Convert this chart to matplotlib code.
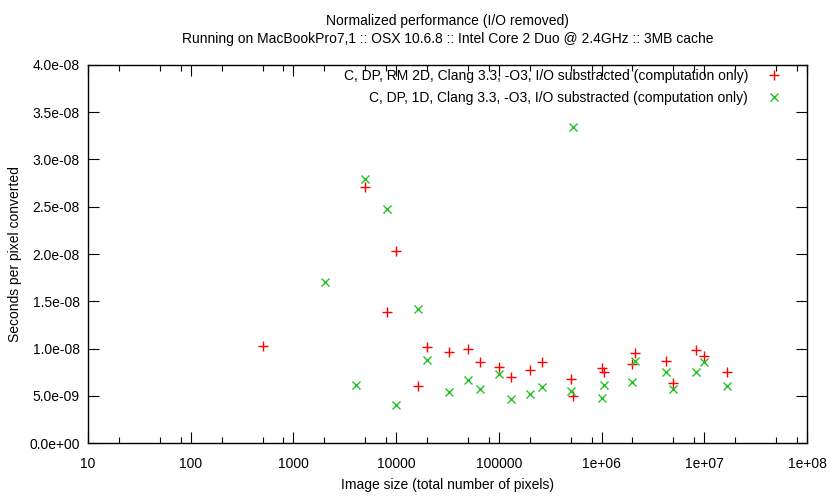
import matplotlib
matplotlib.use('Agg')
import matplotlib.pyplot as plt
from matplotlib.ticker import FuncFormatter, NullFormatter

###############################################################################
# Datos (tiempo por pixel, I/O descontado)
###############################################################################
x_rm2d = [500, 5000, 8192, 10000, 16384, 20000, 32768, 50000, 65536, 100000,
          131072, 200000, 262144, 500000, 524288, 1000000, 1048576, 2000000,
          2097152, 4194304, 5000000, 8388608, 10000000, 16777216]
y_rm2d = [10.22, 27.08, 13.88, 20.27, 6.03, 10.15, 9.68, 9.97, 8.56, 7.99,
          7.00, 7.75, 8.56, 6.82, 4.99, 7.96, 7.55, 8.38,
          9.50, 8.67, 6.30, 9.85, 9.18, 7.51]

x_1d = [2048, 4096, 5000, 8192, 10000, 16384, 20000, 32768, 50000, 65536,
        100000, 131072, 200000, 262144, 500000, 524288, 1000000, 1048576,
        2000000, 2097152, 4194304, 5000000, 8388608, 10000000, 16777216]
y_1d = [17.01, 6.10, 27.90, 24.77, 4.03, 14.20, 8.79, 5.44, 6.68, 5.76,
        7.35, 4.64, 5.17, 5.91, 5.52, 33.39, 4.75, 6.13,
        6.50, 8.70, 7.53, 5.75, 7.53, 8.54, 6.02]
y_rm2d = [v * 1e-9 for v in y_rm2d]
y_1d = [v * 1e-9 for v in y_1d]

lab_rm2d = 'C, DP, RM 2D, Clang 3.3, -O3, I/O substracted (computation only)'
lab_1d = 'C, DP, 1D, Clang 3.3, -O3, I/O substracted (computation only)'
title = ('Normalized performance (I/O removed)\n'
         'Running on MacBookPro7,1 :: OSX 10.6.8 :: Intel Core 2 Duo @ 2.4GHz :: 3MB cache')

xmajor = [10, 100, 1000, 10000, 100000, 1e6, 1e7, 1e8]
yticks = [0, 5e-9, 1e-8, 1.5e-8, 2e-8, 2.5e-8, 3e-8, 3.5e-8, 4e-8]

###############################################################################
# Grafica
###############################################################################
plt.rcParams['font.family'] = ['Liberation Sans', 'DejaVu Sans']
plt.rcParams['font.size'] = 10

fig = plt.figure(figsize=(8.3, 4.98), dpi=100)
ax = fig.add_axes([88/830, 55/498, 719/830, 378/498])

ax.plot(x_rm2d, y_rm2d, linestyle='none', marker='+', ms=6.5, mew=1,
        color='#ff0000', label=lab_rm2d)
ax.plot(x_1d, y_1d, linestyle='none', marker='x', ms=5.5, mew=1,
        color='#22c322', label=lab_1d)

ax.set_xscale('log')
ax.set_xlim(10, 1e8)
ax.set_ylim(0, 4e-8)
ax.set_xticks(xmajor)
minors = [m * d for d in xmajor[:-1] for m in (2, 5, 8)]
ax.set_xticks(minors, minor=True)
ax.xaxis.set_minor_formatter(NullFormatter())
ax.xaxis.set_major_formatter(FuncFormatter(lambda v, p: '%g' % v))
ax.set_yticks(yticks)
ax.yaxis.set_major_formatter(FuncFormatter(lambda v, p: '%.1e' % v))

ax.tick_params('both', which='major', direction='in', top=True, right=True,
               length=8, width=0.8, pad=6)
ax.tick_params('both', which='minor', direction='in', top=True, right=True,
               length=4, width=0.8)
ax.tick_params('x', which='major', pad=10)
for s in ax.spines.values():
    s.set_linewidth(1)

ax.set_xlabel('Image size (total number of pixels)', labelpad=5)
ax.set_ylabel('Seconds per pixel converted', labelpad=5)
ax.set_title(title, fontsize=10, pad=16, linespacing=1.35)

ax.legend(loc='upper right', markerfirst=False, frameon=False,
          handlelength=1.0, handletextpad=1.37, labelspacing=0.55,
          borderaxespad=0.3, bbox_to_anchor=(0.9774, 1.015))

fig.savefig('out.png', dpi=100)
